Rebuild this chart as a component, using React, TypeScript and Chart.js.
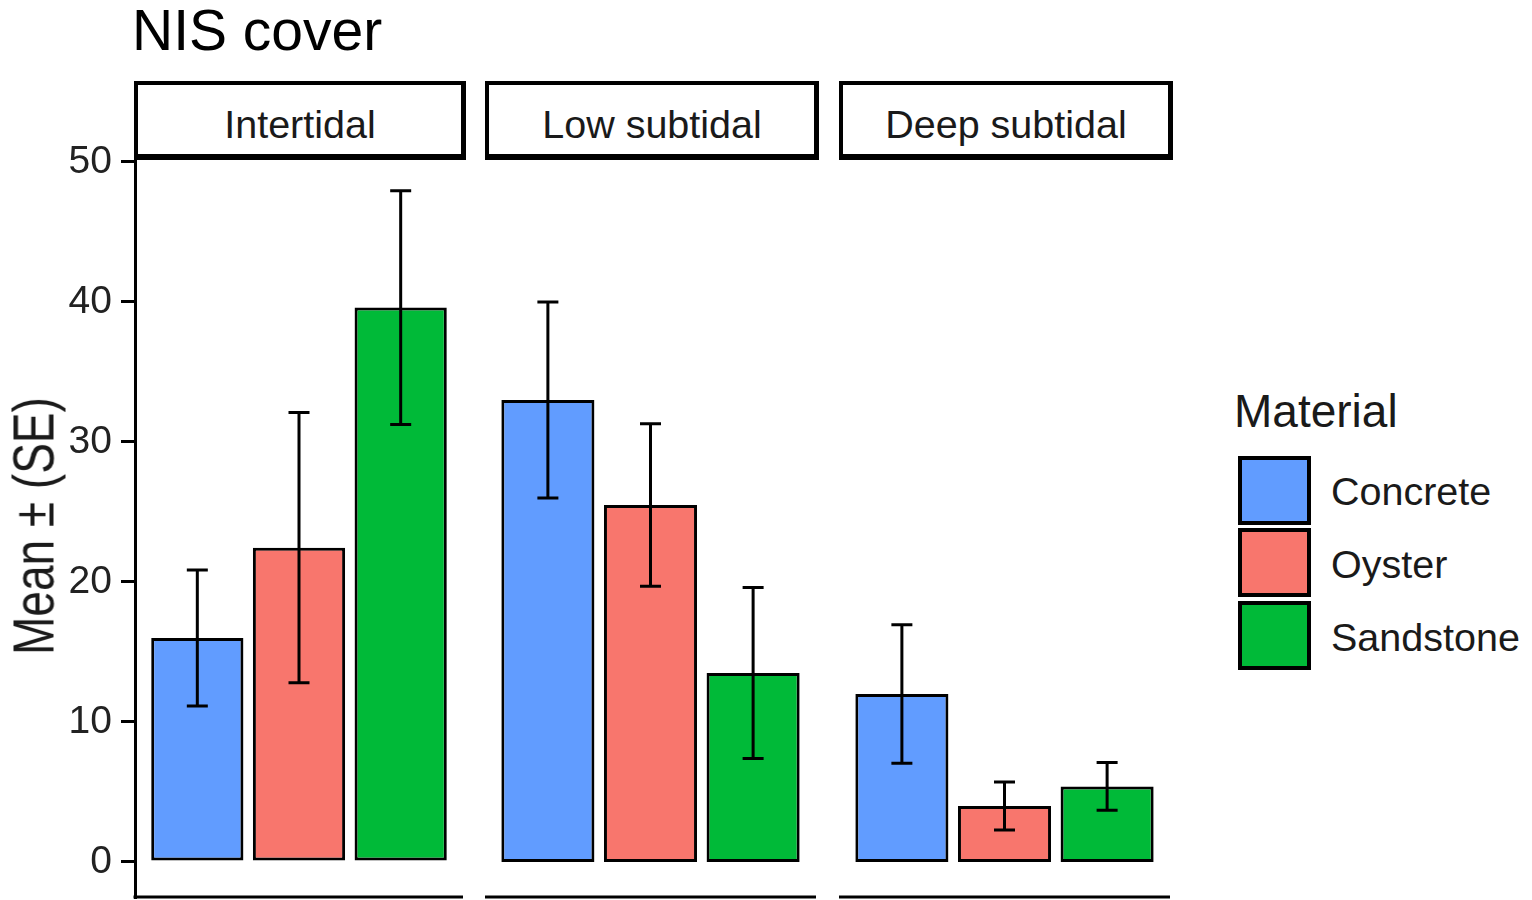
import React, { useEffect, useRef } from "react";
import { Chart, registerables } from "chart.js";

Chart.register(...registerables);

// Habitat facets and materials
const habitats = ["Intertidal", "Low subtidal", "Deep subtidal"];
const materials = ["Concrete", "Oyster", "Sandstone"];

// Mean cover per habitat (Intertidal, Low subtidal, Deep subtidal)
const concreteMean = [16.0, 33.0, 12.0];
const oysterMean = [22.45, 25.5, 4.0];
const sandstoneMean = [39.6, 13.5, 5.4];

// Standard errors, same order
const concreteSE = [4.85, 7.0, 4.95];
const oysterSE = [9.65, 5.8, 1.72];
const sandstoneSE = [8.35, 6.1, 1.7];

const yTicks = [0, 10, 20, 30, 40, 50];

const materialColors = ["#619CFF", "#F8766D", "#00BA38"];

const means = [concreteMean, oysterMean, sandstoneMean];
const ses = [concreteSE, oysterSE, sandstoneSE];

const FONT = '"Liberation Sans", Arial, Helvetica, sans-serif';

// Facet layout (page pixels)
const panelLeft = [134, 485, 839];
const panelWidth = [329, 331, 331];
const AXIS_W = 135;
const CANVAS_TOP = 120;
const PAD_TOP = 40;
const PAD_BOTTOM = 40;
const AREA_BOTTOM = 897;
const CANVAS_H = AREA_BOTTOM + PAD_BOTTOM - CANVAS_TOP;
const Y_MIN = -2.5;
const Y_MAX = 50.14;

function FacetPanel({ index }: { index: number }) {
  const ref = useRef<HTMLCanvasElement | null>(null);
  const withAxis = index === 0;
  const left = withAxis ? 0 : panelLeft[index];
  const width = withAxis ? AXIS_W + panelWidth[0] - 1 : panelWidth[index];

  useEffect(() => {
    if (!ref.current) return;

    const errorBars = {
      id: "errorBars",
      afterDatasetsDraw(chart: any) {
        const ctx = chart.ctx;
        const yScale = chart.scales.y;
        ctx.save();
        ctx.strokeStyle = "#000";
        ctx.lineWidth = 3;
        ctx.lineCap = "butt";
        materials.forEach((_, k) => {
          const bar = chart.getDatasetMeta(k).data[0];
          if (!bar) return;
          const m = means[k][index];
          const s = ses[k][index];
          const yHi = yScale.getPixelForValue(m + s);
          const yLo = yScale.getPixelForValue(m - s);
          const x = bar.x;
          const cap = 10.5;
          ctx.beginPath();
          ctx.moveTo(x, yHi);
          ctx.lineTo(x, yLo);
          ctx.moveTo(x - cap, yHi);
          ctx.lineTo(x + cap, yHi);
          ctx.moveTo(x - cap, yLo);
          ctx.lineTo(x + cap, yLo);
          ctx.stroke();
        });
        ctx.restore();
      },
    };

    const bottomLine = {
      id: "bottomLine",
      afterDraw(chart: any) {
        const { ctx, chartArea } = chart;
        ctx.save();
        ctx.strokeStyle = "#000";
        ctx.lineWidth = 3;
        ctx.beginPath();
        ctx.moveTo(chartArea.left - (withAxis ? 1.5 : 0), chartArea.bottom);
        ctx.lineTo(chartArea.right, chartArea.bottom);
        ctx.stroke();
        ctx.restore();
      },
    };

    const yScaleOptions: any = {
      display: withAxis,
      min: Y_MIN,
      max: Y_MAX,
      afterBuildTicks: (scale: any) => {
        scale.ticks = yTicks.map((v) => ({ value: v }));
      },
      grid: {
        display: true,
        drawOnChartArea: false,
        drawTicks: true,
        tickLength: 14,
        color: "#000",
        lineWidth: 3,
      },
      border: { display: true, color: "#000", width: 3 },
      ticks: {
        padding: 9,
        color: "#222",
        font: { family: FONT, size: 39 },
      },
    };
    if (withAxis) {
      yScaleOptions.afterFit = (scale: any) => {
        scale.width = AXIS_W;
      };
    }

    const chart = new Chart(ref.current, {
      type: "bar",
      data: {
        labels: [habitats[index]],
        datasets: materials.map((name, k) => ({
          label: name,
          data: [means[k][index]],
          backgroundColor: materialColors[k],
          borderColor: "#000",
          borderWidth: 3,
          borderSkipped: false,
          categoryPercentage: 0.93,
          barPercentage: 0.907,
        })),
      },
      options: {
        animation: false,
        responsive: false,
        devicePixelRatio: 1,
        layout: { padding: { top: PAD_TOP, bottom: PAD_BOTTOM, left: 0, right: 0 } },
        plugins: {
          legend: { display: false },
          tooltip: { enabled: false },
          title: { display: false },
        },
        scales: {
          x: { display: false },
          y: yScaleOptions,
        },
      },
      plugins: [errorBars, bottomLine],
    });

    return () => chart.destroy();
  }, [index]);

  return (
    <canvas
      ref={ref}
      width={width}
      height={CANVAS_H}
      style={{ position: "absolute", left, top: CANVAS_TOP, width, height: CANVAS_H }}
    />
  );
}

// Place a single line of text by its baseline
function Label({
  text,
  left,
  baseline,
  size,
  width,
  align = "left",
  color = "#1a1a1a",
}: {
  text: string;
  left: number;
  baseline: number;
  size: number;
  width?: number;
  align?: "left" | "center";
  color?: string;
}) {
  return (
    <div
      style={{
        position: "absolute",
        left,
        top: baseline - 0.8465 * size,
        width,
        textAlign: align,
        fontFamily: FONT,
        fontSize: size,
        lineHeight: `${size}px`,
        color,
        whiteSpace: "nowrap",
      }}
    >
      {text}
    </div>
  );
}

export default function App() {
  const legendTops = [456, 528, 601];
  const legendBaselines = [505, 578, 651];

  return (
    <div
      style={{
        position: "absolute",
        left: 0,
        top: 0,
        width: 1532,
        height: 900,
        background: "#fff",
        overflow: "hidden",
      }}
    >
      <Label text="NIS cover" left={132} baseline={50} size={57} color="#000" />

      {habitats.map((h, i) => (
        <React.Fragment key={h}>
          <div
            style={{
              position: "absolute",
              left: panelLeft[i],
              top: 81,
              width: panelWidth[i] + 3,
              height: 79,
              boxSizing: "border-box",
              borderStyle: "solid",
              borderColor: "#000",
              borderWidth: "4px 5px 6px 4px",
              background: "#fff",
            }}
          />
          <Label
            text={h}
            left={panelLeft[i]}
            width={panelWidth[i] + 3}
            align="center"
            baseline={138}
            size={39.5}
          />
        </React.Fragment>
      ))}

      {habitats.map((h, i) => (
        <FacetPanel key={h} index={i} />
      ))}

      <div
        style={{
          position: "absolute",
          left: 33,
          top: 526,
          transform: "translate(-50%, -50%) rotate(-90deg) scaleY(1.25)",
          fontFamily: FONT,
          fontSize: 46,
          lineHeight: "46px",
          color: "#1a1a1a",
          whiteSpace: "nowrap",
        }}
      >
        Mean ± (SE)
      </div>

      <Label text="Material" left={1234} baseline={427} size={46} />
      {materials.map((m, k) => (
        <React.Fragment key={m}>
          <div
            style={{
              position: "absolute",
              left: 1238,
              top: legendTops[k],
              width: 73,
              height: 69,
              boxSizing: "border-box",
              border: "4px solid #000",
              background: materialColors[k],
            }}
          />
          <Label text={m} left={1331} baseline={legendBaselines[k]} size={39.5} />
        </React.Fragment>
      ))}
    </div>
  );
}
